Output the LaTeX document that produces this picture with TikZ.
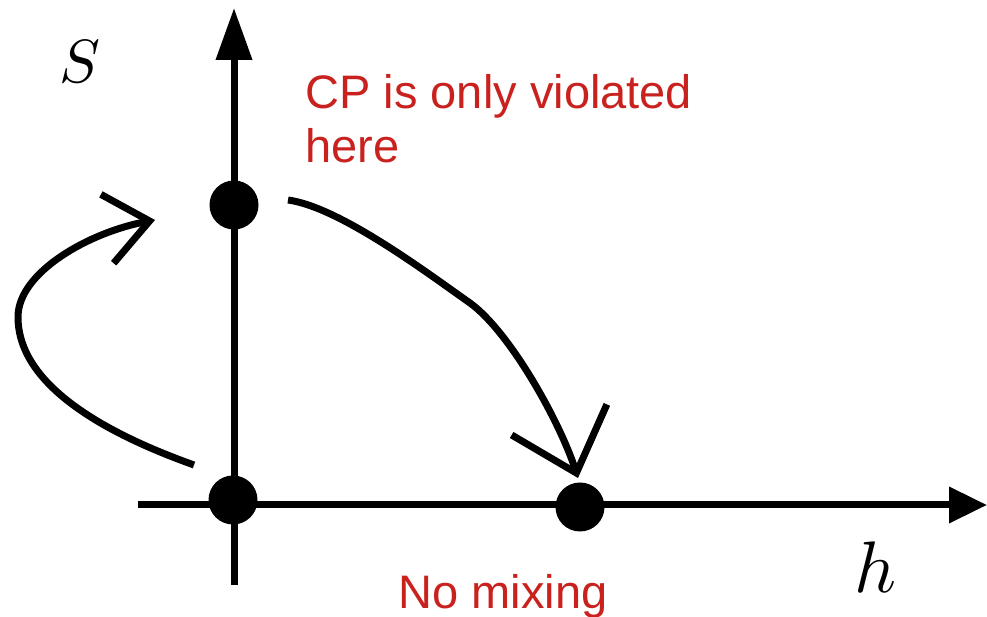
\documentclass[tikz,border=0pt]{standalone}
\usepackage{fontspec}
\usepackage{tikz}
\usetikzlibrary{arrows.meta}
\newfontfamily\labelfont{Liberation Sans}
\definecolor{cpred}{HTML}{C9211E}

\begin{document}
\begin{tikzpicture}[x=1pt, y=1pt, line width=7pt]
    % Size of the filled points (pixels of the reference = pt here)
    \def\dotsize{49pt}
    % Style definitions
    \tikzset{
        % filled points on the axes
        blob/.style={circle, fill=black, minimum size=\dotsize, inner sep=0pt},
        % axes with a solid head
        axis/.style={-{Triangle[length=#1, width=35pt]}},
        % hand drawn curves with an open head
        sweep/.style={-{Straight Barb[#1]}, line join=round},
        % red remarks
        remark/.style={text=cpred, inner sep=0pt,
            font=\labelfont\fontsize{47}{54}\selectfont}
    }
    \useasboundingbox (0,0) rectangle (987,617);

    % Axes
    \coordinate (v0) at (234,32);
    \coordinate (v1) at (234,609);
    \coordinate (h0) at (138,112);
    \coordinate (h1) at (987,112);
    \draw[axis=52pt] (v0) -- (v1);
    \draw[axis=38pt] (h0) -- (h1);

    % Points
    \node[blob] (O) at (233,117) {};
    \node[blob] (T) at (234,412) {};
    \node[blob] (H) at (580,110) {};

    % Axis labels
    \node[scale=6.1] (S) at (80,555) {$S$};
    \node[scale=7.3] (h) at (876,50) {$h$};

    % Remarks (base anchor sits on the last line)
    \node[remark, anchor=base west, align=left] (cp) at (302,454)
        {CP is only violated\\here};
    \node[remark, anchor=base] (mix) at (503,8) {No mixing};

    % Curves between the points
    \draw[sweep={length=43pt, width=70pt}] ([shift={(-39,35)}]O.center)
        .. controls (110,182) and (18,230) .. (18,300)
        .. controls (18,345) and (90,385) .. ([shift={(-79,-15)}]T.center);
    \draw[sweep={length=56pt, width=100pt}] ([shift={(54,5)}]T.center)
        .. controls (340,410) and (430,342) .. (470,314)
        .. controls (510,285) and (560,195) .. ([shift={(-2,29)}]H.center);
\end{tikzpicture}
\end{document}
